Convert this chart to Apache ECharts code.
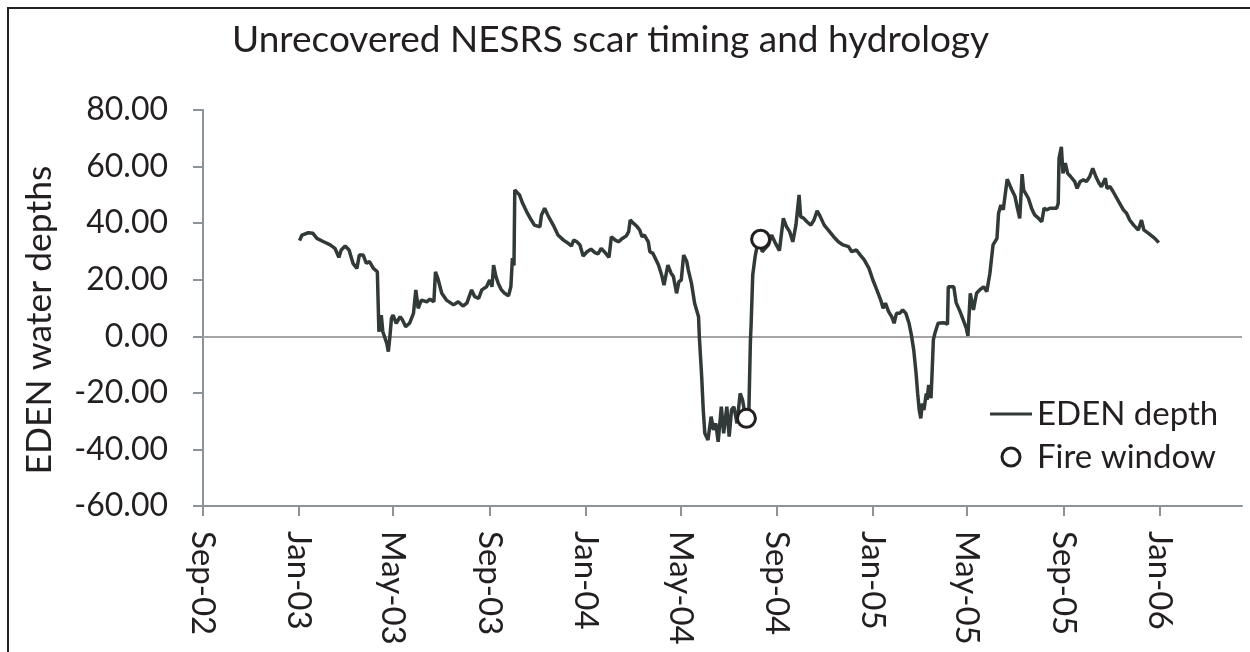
<!DOCTYPE html>
<html>
<head>
<meta charset="utf-8">
<script src="https://cdn.jsdelivr.net/npm/echarts@6/dist/echarts.min.js"></script>
<style>
html,body{margin:0;padding:0;background:#fff;}
#chart{width:1250px;height:652px;}
</style>
</head>
<body>
<div id="chart"></div>
<script>
// ---- data ----
const titleText = 'Unrecovered NESRS scar timing and hydrology';
const yAxisName = 'EDEN water depths';
const seriesNames = ['EDEN depth', 'Fire window'];

const tickDates = ['2002-09-01','2003-01-01','2003-05-01','2003-09-01','2004-01-01','2004-05-01',
                   '2004-09-01','2005-01-01','2005-05-01','2005-09-01','2006-01-01'];
const tickLabels = ['Sep-02','Jan-03','May-03','Sep-03','Jan-04','May-04',
                    'Sep-04','Jan-05','May-05','Sep-05','Jan-06'];
const xMin = '2002-09-01';
const xMax = '2006-04-16';

const edenDates = [
 '2003-01-02','2003-01-05','2003-01-13','2003-01-19','2003-01-24','2003-02-01','2003-02-10','2003-02-16','2003-02-21','2003-02-24',
 '2003-03-01','2003-03-06','2003-03-11','2003-03-16','2003-03-19','2003-03-24','2003-03-28','2003-04-01','2003-04-06','2003-04-11',
 '2003-04-12','2003-04-13','2003-04-14','2003-04-16','2003-04-18','2003-04-23','2003-04-25','2003-04-27','2003-04-29','2003-05-01',
 '2003-05-05','2003-05-10','2003-05-13','2003-05-17','2003-05-22','2003-05-27','2003-05-30','2003-06-02','2003-06-06','2003-06-13',
 '2003-06-17','2003-06-22','2003-06-24','2003-06-27','2003-07-02','2003-07-08','2003-07-17','2003-07-23','2003-07-29','2003-08-03',
 '2003-08-09','2003-08-13','2003-08-18','2003-08-22','2003-08-28','2003-09-01','2003-09-04','2003-09-06','2003-09-09','2003-09-12',
 '2003-09-16','2003-09-20','2003-09-25','2003-09-28','2003-09-30','2003-10-02','2003-10-03','2003-10-05','2003-10-09','2003-10-13',
 '2003-10-18','2003-10-24','2003-10-28','2003-11-04','2003-11-06','2003-11-10','2003-11-15','2003-11-21','2003-11-27','2003-12-04',
 '2003-12-10','2003-12-14','2003-12-17','2003-12-21','2003-12-25','2003-12-29','2004-01-03','2004-01-08','2004-01-13','2004-01-17',
 '2004-01-21','2004-01-25','2004-01-31','2004-02-03','2004-02-08','2004-02-12','2004-02-17','2004-02-22','2004-02-25','2004-02-27',
 '2004-03-02','2004-03-07','2004-03-10','2004-03-13','2004-03-16','2004-03-21','2004-03-23','2004-03-27','2004-04-03','2004-04-07',
 '2004-04-10','2004-04-15','2004-04-19','2004-04-22','2004-04-26','2004-04-29','2004-05-02','2004-05-05','2004-05-09','2004-05-11',
 '2004-05-15','2004-05-19','2004-05-24','2004-05-25','2004-05-28','2004-05-30','2004-06-01','2004-06-05','2004-06-09','2004-06-12',
 '2004-06-15','2004-06-18','2004-06-22','2004-06-25','2004-06-29','2004-07-02','2004-07-05','2004-07-08','2004-07-12','2004-07-16',
 '2004-07-19','2004-07-22','2004-07-24','2004-07-27','2004-07-29','2004-07-30','2004-08-01','2004-08-04','2004-08-06','2004-08-11',
 '2004-08-13','2004-08-17','2004-08-21','2004-08-25','2004-08-29','2004-09-04','2004-09-09','2004-09-13','2004-09-17','2004-09-21',
 '2004-09-25','2004-09-29','2004-10-01','2004-10-05','2004-10-09','2004-10-14','2004-10-18','2004-10-22','2004-10-26','2004-10-31',
 '2004-11-05','2004-11-12','2004-11-18','2004-11-24','2004-12-01','2004-12-05','2004-12-11','2004-12-16','2004-12-21','2004-12-27',
 '2005-01-01','2005-01-06','2005-01-11','2005-01-14','2005-01-17','2005-01-21','2005-01-25','2005-01-28','2005-01-31','2005-02-04',
 '2005-02-08','2005-02-12','2005-02-16','2005-02-19','2005-02-22','2005-02-25','2005-02-27','2005-03-01','2005-03-03','2005-03-05',
 '2005-03-07','2005-03-10','2005-03-11','2005-03-13','2005-03-16','2005-03-17','2005-03-19','2005-03-21','2005-03-25','2005-04-01',
 '2005-04-06','2005-04-07','2005-04-14','2005-04-17','2005-04-22','2005-04-26','2005-04-30','2005-05-02','2005-05-05','2005-05-09',
 '2005-05-13','2005-05-17','2005-05-22','2005-05-26','2005-05-30','2005-06-03','2005-06-08','2005-06-10','2005-06-13','2005-06-16',
 '2005-06-21','2005-06-27','2005-07-01','2005-07-04','2005-07-07','2005-07-10','2005-07-12','2005-07-18','2005-07-22','2005-07-26',
 '2005-07-31','2005-08-04','2005-08-07','2005-08-10','2005-08-15','2005-08-23','2005-08-25','2005-08-26','2005-08-29','2005-08-31',
 '2005-09-03','2005-09-06','2005-09-10','2005-09-15','2005-09-18','2005-09-22','2005-09-26','2005-09-30','2005-10-04','2005-10-08',
 '2005-10-12','2005-10-16','2005-10-19','2005-10-24','2005-10-26','2005-10-30','2005-11-03','2005-11-10','2005-11-16','2005-11-20',
 '2005-11-24','2005-11-29','2005-12-05','2005-12-09','2005-12-12','2005-12-18','2005-12-22','2005-12-26','2005-12-31'
];
const edenDepths = [
 33.8,35.8,36.6,36.4,34.6,33.5,32.3,31.1,27.9,30.5,
 31.9,30.5,25.8,24.0,28.7,28.7,25.8,26.4,24.0,22.8,
 22.5,1.6,1.1,7.5,1.6,-2.5,-5.4,-0.1,6.4,7.5,
 4.6,6.9,5.8,3.4,4.6,8.1,16.4,9.9,12.8,12.2,
 13.1,12.2,22.8,20.5,15.2,12.8,11.1,12.2,10.7,11.7,
 16.4,14.0,13.4,16.4,17.5,19.9,17.5,25.2,21.1,18.7,
 16.4,15.2,14.3,17.5,27.6,25.0,51.7,52.3,50.0,47.0,
 44.1,41.1,39.3,38.7,42.9,45.3,42.3,39.3,35.8,34.0,
 32.9,31.9,34.0,33.4,32.3,28.4,29.9,30.8,29.6,29.1,
 31.1,29.9,27.9,35.2,34.0,33.4,34.6,35.5,37.0,41.1,
 40.0,38.7,37.6,35.2,35.8,33.4,29.9,29.3,25.2,21.7,
 18.1,25.2,22.3,21.1,15.2,19.3,19.9,28.7,26.4,23.4,
 18.7,11.7,6.9,-0.1,-14.3,-26.1,-34.3,-36.7,-28.4,-33.1,
 -30.8,-37.3,-24.9,-34.3,-24.9,-35.5,-26.0,-24.9,-30.8,-20.2,
 -22.5,-27.2,-29.0,-27.5,-2.0,4.6,21.7,28.1,31.1,34.3,
 29.9,31.1,32.3,35.8,33.4,30.3,41.7,38.7,37.0,33.4,
 39.3,50.0,42.3,41.7,40.5,39.3,41.1,44.4,42.3,39.3,
 37.6,35.2,33.4,32.3,31.7,29.9,30.5,28.7,27.0,24.0,
 19.9,16.4,12.8,9.9,11.7,8.7,6.9,4.6,8.1,8.1,
 9.3,8.1,4.6,0.5,-4.8,-13.1,-20.2,-26.1,-29.0,-23.7,
 -26.1,-20.2,-22.5,-17.2,-21.9,-15.5,-1.3,1.1,4.6,4.8,
 4.3,17.5,17.5,11.9,8.7,5.8,2.8,0.1,15.2,9.3,
 15.2,16.4,17.5,15.8,22.3,32.3,34.6,43.5,46.4,44.7,
 55.5,51.7,49.4,45.3,41.7,57.3,51.7,48.8,45.3,42.9,
 41.7,40.5,45.3,44.7,45.3,45.3,47.0,62.9,67.0,57.6,
 61.2,57.6,56.4,54.7,52.3,54.7,55.3,54.7,56.4,59.4,
 56.4,54.1,52.9,55.9,52.3,52.9,51.1,47.6,44.7,43.5,
 41.1,39.3,37.6,41.1,37.6,36.4,35.5,34.6,33.1
];

const fireDates = ['2004-07-24','2004-08-11'];
const fireDepths = [-29.0, 34.3];

const yMin = -60, yMax = 80, yStep = 20;

// ---- build chart ----
function toTime(s){ return new Date(s + 'T00:00:00').getTime(); }
const tickTimes = tickDates.map(toTime);
const labelOf = {};
tickTimes.forEach((t,i)=>{ labelOf[t] = tickLabels[i]; });

const edenData = edenDates.map((d,i)=>[toTime(d), edenDepths[i]]);
const fireData = fireDates.map((d,i)=>[toTime(d), fireDepths[i]]);

const FONT = 'Lato';
const TXT = '#231f20';
const AXIS = '#8a929a';
const LINE = '#313a38';

const chart = echarts.init(document.getElementById('chart'), null, {renderer:'canvas'});
chart.setOption({
  animation:false,
  backgroundColor:'#fff',
  textStyle:{fontFamily:FONT},
  title:{
    text:titleText, left:227, top:17,
    textStyle:{fontFamily:FONT, fontSize:37, fontWeight:'normal', color:TXT}
  },
  graphic:[{
    type:'rect', silent:true, z:100,
    shape:{x:8, y:8, width:1400, height:900},
    style:{fill:'none', stroke:'#222', lineWidth:2}
  }],
  legend:{
    orient:'vertical', left:990, top:397, padding:0,
    itemWidth:42, itemHeight:18, itemGap:9, itemTextGap:5,
    textStyle:{fontFamily:FONT, fontSize:33, color:TXT, lineHeight:34},
    data:[
      {name:seriesNames[0], icon:'path://M0,0 L42,0 L42,3 L0,3 Z', itemStyle:{color:LINE}},
      {name:seriesNames[1], icon:'circle', itemStyle:{color:'#fff', borderColor:'#231f20', borderWidth:3}}
    ]
  },
  grid:{left:203, right:8, top:110, bottom:146, containLabel:false, outerBoundsMode:'none'},
  xAxis:{
    type:'value', min:toTime(xMin), max:toTime(xMax),
    axisLine:{show:true, onZero:false, lineStyle:{color:AXIS, width:2}},
    axisTick:{show:true, length:10, lineStyle:{color:AXIS, width:2}, customValues:tickTimes},
    axisLabel:{
      customValues:tickTimes, rotate:-90, margin:25,
      fontFamily:FONT, fontSize:33, color:TXT,
      formatter:(v)=>labelOf[v] || ''
    },
    splitLine:{show:false}
  },
  yAxis:{
    type:'value', min:yMin, max:yMax, interval:yStep,
    name:yAxisName, nameLocation:'middle', nameGap:145,
    nameTextStyle:{fontFamily:FONT, fontSize:35.5, color:TXT, padding:[0,24,0,0]},
    axisLine:{show:true, lineStyle:{color:AXIS, width:2}},
    axisTick:{show:true, length:10, lineStyle:{color:AXIS, width:2}},
    axisLabel:{margin:35, fontFamily:FONT, fontSize:32, color:TXT, formatter:(v)=>v.toFixed(2)},
    splitLine:{show:false}
  },
  series:[
    {
      name:seriesNames[0], type:'line', data:edenData,
      showSymbol:false, symbol:'none',
      lineStyle:{color:LINE, width:3.5}, itemStyle:{color:LINE},
      z:2,
      markLine:{
        silent:true, symbol:['none','none'], label:{show:false},
        lineStyle:{color:'#a5a5a5', width:2, type:'solid'},
        data:[{yAxis:0}], z:1
      }
    },
    {
      name:seriesNames[1], type:'scatter', data:fireData,
      symbol:'circle', symbolSize:18,
      itemStyle:{color:'#fff', borderColor:'#231f20', borderWidth:3, opacity:1},
      z:5
    }
  ]
});
</script>
</body>
</html>
